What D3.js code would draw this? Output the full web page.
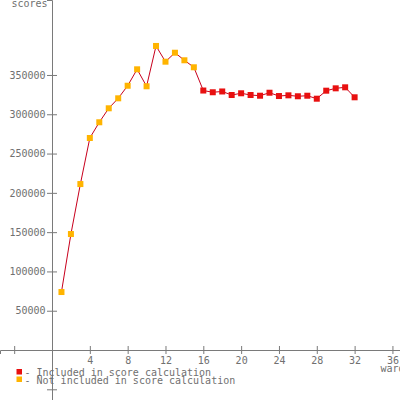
<!DOCTYPE html>
<html><head><meta charset="utf-8">
<script src="https://cdn.jsdelivr.net/npm/d3@7"></script>
<style>
html,body{margin:0;padding:0;background:#fff;}
svg{display:block;}
text{font-family:"DejaVu Sans Mono",monospace;font-size:10px;fill:#707070;}
</style></head>
<body>
<svg id="c" width="400" height="400"></svg>
<script>
const wards = [1,2,3,4,5,6,7,8,9,10,11,12,13,14,15,16,17,18,19,20,21,22,23,24,25,26,27,28,29,30,31,32];
const scores = [73800,147600,211200,269800,289800,307600,320300,336300,357200,335600,386900,366900,378300,368700,359800,
  330200,328000,329000,324500,326700,324500,323600,327400,323200,324100,322900,323600,319800,330000,333000,334300,321600];
const included = [false,false,false,false,false,false,false,false,false,false,false,false,false,false,false,
  true,true,true,true,true,true,true,true,true,true,true,true,true,true,true,true,true];
const xTicks = [-4,4,8,12,16,20,24,28,32,36];
const yTicks = [-50000,50000,100000,150000,200000,250000,300000,350000];
const legendLabels = ["- Included in score calculation","- Not included in score calculation"];
const colors = {included:"#e81010", excluded:"#ffb400", line:"#c8001c", axis:"#7a7a7a"};

const svg = d3.select("#c");
const x = d3.scaleLinear().domain([-5.5, 36.8]).range([0, 400]);
const y = d3.scaleLinear().domain([-63600, 445400]).range([400, 0]);
const x0 = Math.round(x(0)), y0 = Math.round(y(0));

const xAxis = d3.axisBottom(x).tickValues(xTicks).tickSizeOuter(0).tickSize(4)
  .tickFormat(d => d > 0 ? d : "");
const gx = svg.append("g").attr("transform", `translate(0,${y0})`).call(xAxis);
gx.select(".domain").attr("stroke", colors.axis);
gx.selectAll(".tick line").attr("stroke", colors.axis).attr("y1", -4).attr("y2", 4);
gx.selectAll(".tick text").attr("y", 6.8).attr("fill", "#707070").style("font-size","10px").style("font-family","DejaVu Sans Mono");

const yAxis = d3.axisLeft(y).tickValues(yTicks).tickSizeOuter(0).tickSize(5)
  .tickFormat(d => d > 0 ? d : "");
const gy = svg.append("g").attr("transform", `translate(${x0},0)`).call(yAxis);
gy.select(".domain").attr("stroke", colors.axis);
gy.selectAll(".tick line").attr("stroke", colors.axis).attr("x1", -5).attr("x2", 5);
gy.selectAll(".tick text").attr("x", -6.5).attr("fill", "#707070").style("font-size","10px").style("font-family","DejaVu Sans Mono");

svg.append("text").attr("x", 47.5).attr("y", 7).attr("text-anchor", "end").text("scores");
svg.append("text").attr("x", 380.5).attr("y", 372).text("ward");

const data = wards.map((w,i) => ({w, s: scores[i], inc: included[i]}));
svg.append("path").datum(data)
  .attr("fill","none").attr("stroke", colors.line).attr("stroke-width", 1)
  .attr("d", d3.line().x(d => x(d.w)).y(d => y(d.s)));

svg.selectAll("rect.pt").data(data).enter().append("rect").attr("class","pt")
  .attr("x", d => x(d.w) - 3).attr("y", d => y(d.s) - 3)
  .attr("width", 6).attr("height", 6)
  .attr("fill", d => d.inc ? colors.included : colors.excluded);

const leg = svg.append("g");
const legColors = [colors.included, colors.excluded];
legendLabels.forEach((t,i) => {
  leg.append("rect").attr("x", 16.5).attr("y", 369 + i*7.5).attr("width", 5.5).attr("height", 5.5).attr("fill", legColors[i]);
  leg.append("text").attr("x", 24.5).attr("y", 375.5 + i*8).attr("fill", "#666").text(t);
});
</script>
</body></html>
